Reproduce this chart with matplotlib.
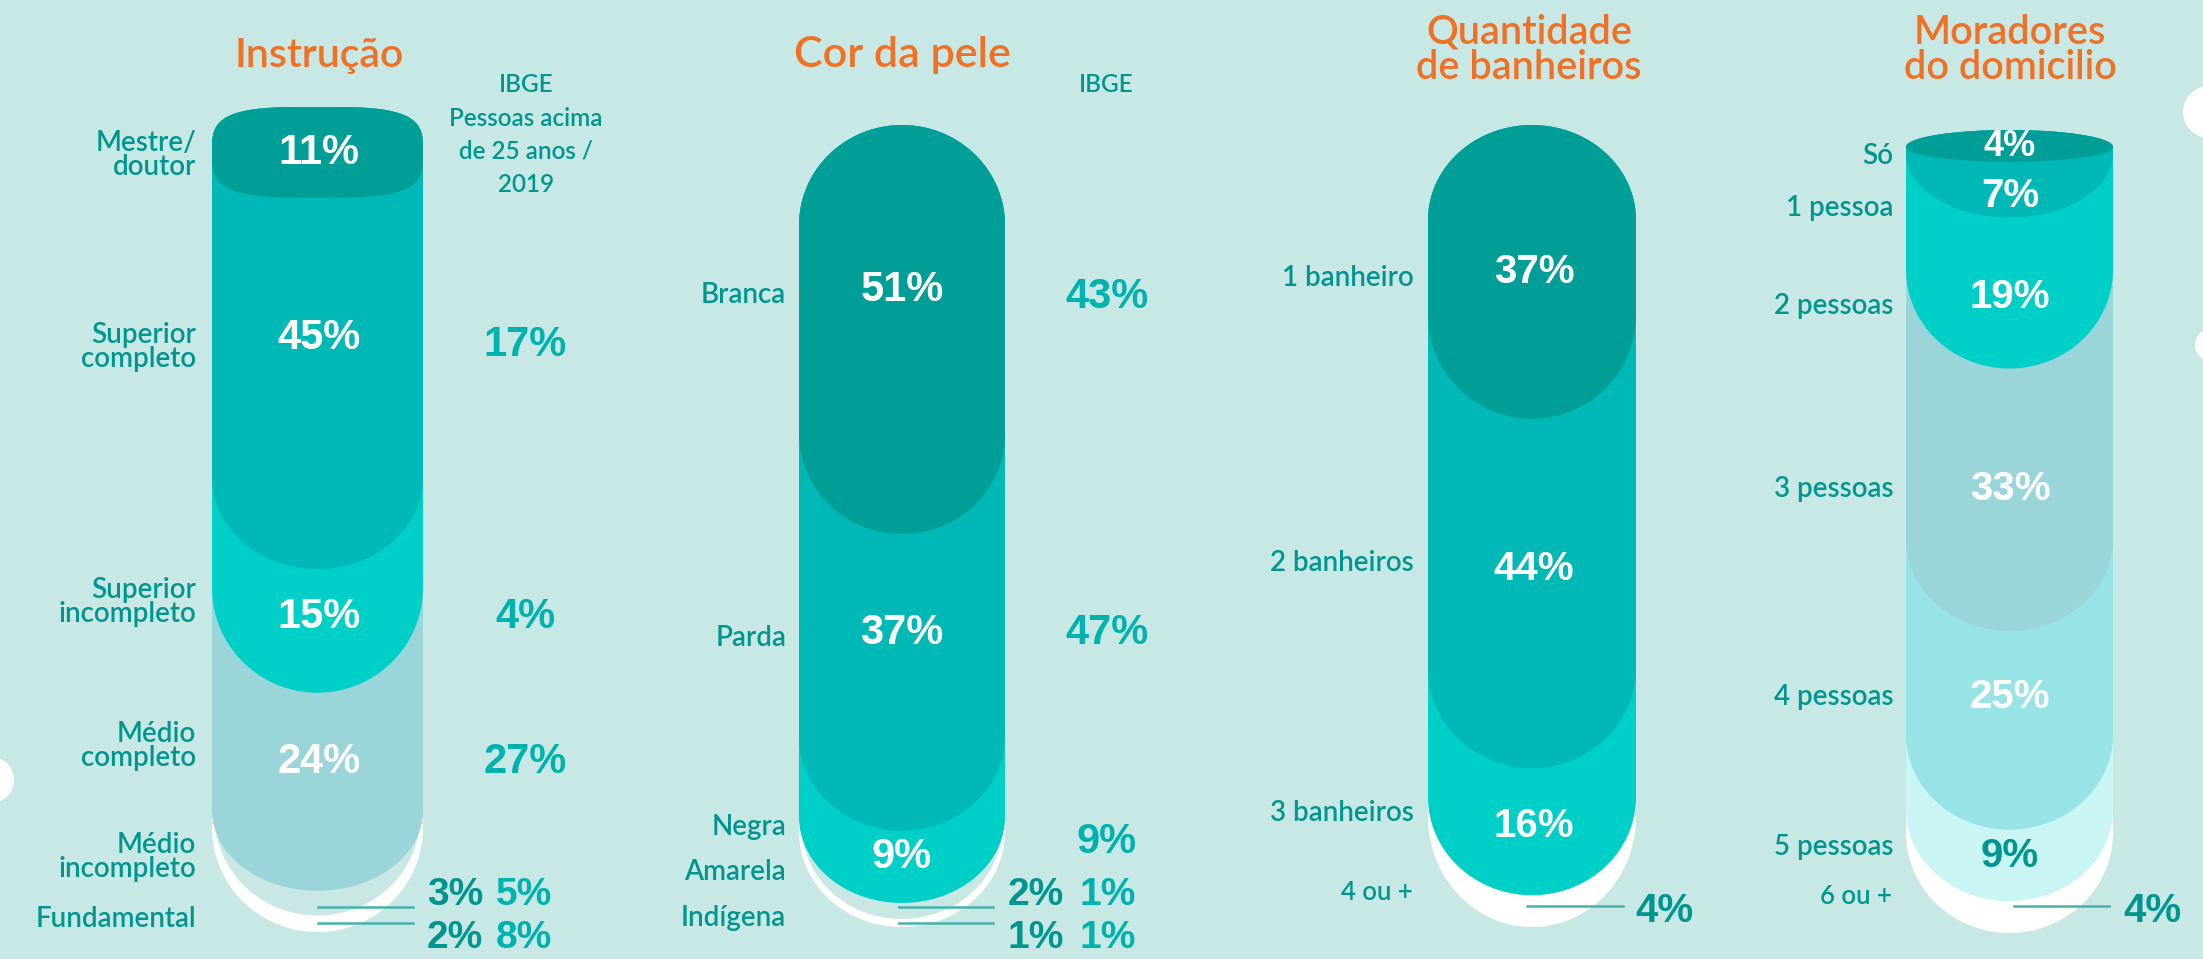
import numpy as np
import matplotlib.pyplot as plt
from matplotlib.patches import Polygon, Circle

W, H = 2203, 959

# ---- data ----
instr_cats = ['Mestre/\ndoutor', 'Superior\ncompleto', 'Superior\nincompleto',
              'Médio\ncompleto', 'Médio\nincompleto', 'Fundamental']
instr_vals = [11, 45, 15, 24, 3, 2]
instr_ibge = [None, 17, 4, 27, 5, 8]

cor_cats = ['Branca', 'Parda', 'Negra', 'Amarela', 'Indígena']
cor_vals = [51, 37, 9, 2, 1]
cor_ibge = [43, 47, 9, 1, 1]

banh_cats = ['1 banheiro', '2 banheiros', '3 banheiros', '4 ou +']
banh_vals = [37, 44, 16, 4]

mor_cats = ['Só', '1 pessoa', '2 pessoas', '3 pessoas', '4 pessoas', '5 pessoas', '6 ou +']
mor_vals = [4, 7, 19, 33, 25, 9, 4]

titles = ['Instrução', 'Cor da pele', 'Quantidade\nde banheiros', 'Moradores\ndo domicilio']

# ---- style ----
BG = '#c8e8e6'
DARK = '#009e96'
TEAL = '#00b8b5'
CYAN = '#00cfc8'
GRAYBLUE = '#9ad5da'
LIGHTCYAN = '#98e3e6'
PALECYAN = '#c9f5f5'
PALE = '#c8e7e5'
WHITE = '#ffffff'
ORANGE = '#f07024'
LABEL = '#00958f'
IBGE_C = '#00b2ad'
LINE_C = '#45b3ac'

TXT = 'Lato'
TW = 'semibold'
NUMF = 'Liberation Sans'


def seg_shape(yb, ht, hb, nt, nb, wf):
    t = np.linspace(np.pi, 0, 80)
    c, s = np.cos(t), np.sin(t)
    xt = wf * np.sign(c) * np.abs(c) ** (2 / nt)
    yt = ht - ht * np.abs(s) ** (2 / nt)
    ys0 = max(ht, yb - hb)
    t2 = np.linspace(0, np.pi, 80)
    c2, s2 = np.cos(t2), np.sin(t2)
    xb = wf * np.sign(c2) * np.abs(c2) ** (2 / nb)
    ybt = ys0 + (yb - ys0) * np.abs(s2) ** (2 / nb)
    return np.column_stack([np.r_[xt, xb], np.r_[yt, ybt]])


def column(fig, x0, x1, top, bottom, vals, colors, ht_px, hb_px, nt, nb, widths):
    total = sum(vals)
    ax = fig.add_axes([x0 / W, 1 - bottom / H, (x1 - x0) / W, (bottom - top) / H])
    ax.set_xlim(-1, 1)
    ax.set_ylim(total, 0)
    ax.axis('off')
    k = total / (bottom - top)
    cum = np.cumsum(vals)
    for i in reversed(range(len(vals))):
        pts = seg_shape(cum[i], ht_px * k, hb_px[i] * k, nt, nb[i], widths[i])
        ax.add_patch(Polygon(pts, closed=True, fc=colors[i], ec='none', clip_on=False))
    return ax


fig = plt.figure(figsize=(W / 100, H / 100), dpi=100)
fig.patch.set_facecolor(BG)

bg = fig.add_axes([0, 0, 1, 1])
bg.set_xlim(0, W)
bg.set_ylim(H, 0)
bg.axis('off')
bg.add_patch(Circle((-9, 780), 23, fc=WHITE, ec='none'))
bg.add_patch(Circle((2209, 112), 26, fc=WHITE, ec='none'))
bg.add_patch(Circle((2211, 345), 16, fc=WHITE, ec='none'))

# columns
column(fig, 212, 423, 107, 932, instr_vals, [DARK, TEAL, CYAN, GRAYBLUE, PALE, WHITE],
       45, [45, 92, 105, 80, 98, 104], 3.5, [3.5, 2, 2, 2, 2, 2], [1, 1, 1, 1, 0.97, 1])
column(fig, 799, 1005, 125, 927, cor_vals, [DARK, TEAL, CYAN, PALE, WHITE],
       100, [100, 95, 86, 92, 95], 2, [2] * 5, [1, 1, 1, 0.97, 1])
column(fig, 1428, 1636, 125, 927, banh_vals, [DARK, TEAL, CYAN, WHITE],
       95, [104, 100, 98, 110], 2, [2] * 4, [1] * 4)
column(fig, 1906, 2113, 130, 933, mor_vals,
       [DARK, TEAL, CYAN, GRAYBLUE, LIGHTCYAN, PALECYAN, WHITE],
       17, [17, 64, 99, 92, 95, 92, 100], 2, [2] * 7, [1] * 7)

# text overlay
tx = fig.add_axes([0, 0, 1, 1])
tx.set_xlim(0, W)
tx.set_ylim(H, 0)
tx.axis('off')
tx.patch.set_alpha(0)


def lab(x, y, s, size=20, ha='right', color=LABEL, ls=0.95):
    tx.text(x, y, s, ha=ha, va='center', fontsize=size, color=color, family=TXT,
            fontweight=TW, linespacing=ls)


def num(x, y, s, size=30, color=WHITE, ha='center'):
    tx.text(x, y, s, ha=ha, va='center', fontsize=size, color=color, family=NUMF,
            fontweight='bold')


def pct(v):
    return f'{v}%'


# titles
for (x, y), t, fs in zip([(319, 55), (902, 55), (1529, 50), (2010, 50)], titles,
                         [29.5, 31, 28.5, 28.5]):
    tx.text(x, y, t, ha='center', va='center', fontsize=fs, color=ORANGE,
            family=TXT, fontweight=TW, linespacing=0.95)

# Instrução
for s, y in zip(instr_cats, [155, 347, 602, 746, 857, 919]):
    lab(196, y, s)
for v, y in zip(instr_vals[:4], [153, 338, 617, 762]):
    num(319, y, pct(v))
for v, y in zip(instr_ibge[1:4], [345, 617, 762]):
    num(525, y, pct(v), color=IBGE_C)
for i, y in enumerate(['IBGE', 'Pessoas acima', 'de 25 anos /', '2019']):
    lab(526, 85 + 33 * i, y, size=17.5, ha='center')
for v, vi, yl, yt in zip(instr_vals[4:], instr_ibge[4:], [907, 923], [895, 938]):
    tx.plot([318, 413], [yl, yl], color=LINE_C, lw=1.8)
    num(455, yt, pct(v), size=28, color=LABEL)
    num(524, yt, pct(vi), size=28, color=IBGE_C)

# Cor da pele
for s, y in zip(cor_cats, [295, 638, 827, 872, 918]):
    lab(786, y, s)
for v, y in zip(cor_vals[:3], [290, 633, 857]):
    num(902, y, pct(v))
lab(1106, 85, 'IBGE', size=17.5, ha='center')
for v, y in zip(cor_ibge[:3], [297, 633, 842]):
    num(1107, y, pct(v), color=IBGE_C)
for v, vi, yl, yt in zip(cor_vals[3:], cor_ibge[3:], [907, 923], [895, 938]):
    tx.plot([899, 993], [yl, yl], color=LINE_C, lw=1.8)
    num(1036, yt, pct(v), size=28, color=LABEL)
    num(1108, yt, pct(vi), size=28, color=IBGE_C)

# Quantidade de banheiros
for s, y in zip(banh_cats[:3], [278, 563, 813]):
    lab(1414, y, s)
lab(1413, 893, banh_cats[3], size=18.5)
for v, y in zip(banh_vals[:3], [272, 569, 826]):
    num(1534, y, pct(v), size=29)
tx.plot([1527, 1623], [906, 906], color=LINE_C, lw=1.8)
num(1664, 911, pct(banh_vals[3]), size=29, color=LABEL)

# Moradores do domicilio
for s, y in zip(mor_cats[:6], [156, 208, 306, 489, 697, 847]):
    lab(1893, y, s)
lab(1892, 896, mor_cats[6], size=18.5)
mor_y = [147, 196, 297, 489, 697, 856]
for i, (v, y) in enumerate(zip(mor_vals[:6], mor_y)):
    num(2010, y, pct(v), size=26 if i == 0 else 29,
        color=LABEL if i == 5 else WHITE)
tx.plot([2014, 2109], [906, 906], color=LINE_C, lw=1.8)
num(2152, 911, pct(mor_vals[6]), size=29, color=LABEL)

fig.savefig('out.png', dpi=100, facecolor=BG)
